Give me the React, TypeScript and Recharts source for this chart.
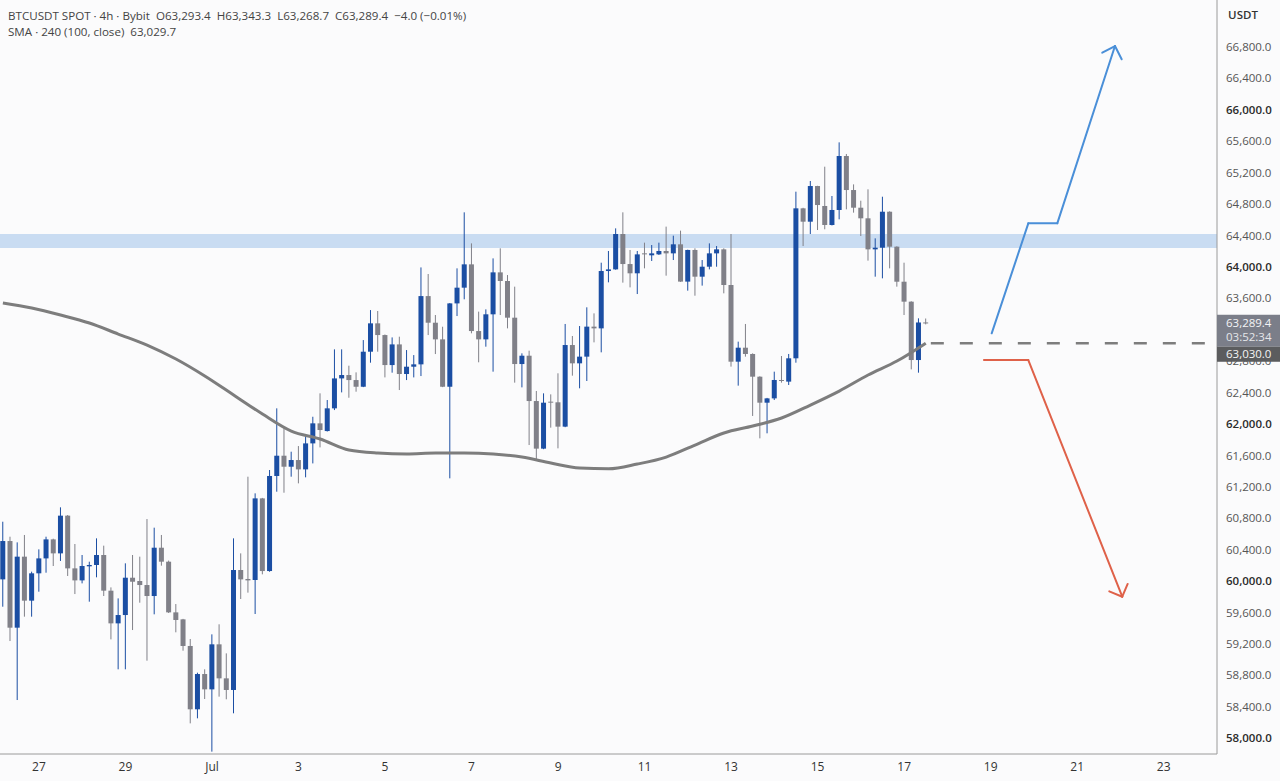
import { Bar, ComposedChart, Line, ReferenceArea, ReferenceLine, XAxis, YAxis } from 'recharts';

// index 0 = Jul 1 00:00, one step = one 4h candle
const FIRST_INDEX = -29;

// prettier-ignore
const OPENS = [
  60023, 60511, 59408, 60312, 59752, 60100, 60290, 60532, 60354, 60834,
  60163, 60010, 60189, 60206, 60333, 59879, 59463, 59569, 60044, 60002,
  59951, 59811, 60426, 60248, 59603, 59514, 59175, 58369, 58818,
  58623, 59196, 58763, 58615, 60142, 60028, 60015, 61054, 60129, 61339,
  61597, 61457, 61542, 61423, 61754, 62009, 61911, 62200, 62581, 62624,
  62560, 62475, 62921, 63282, 63133, 62751, 63014, 62637, 62730, 62760,
  63629, 63290, 63078, 62475, 63536, 63736, 64033, 63184, 63078, 63397,
  63931, 63821, 63354, 62764, 62870, 62293, 61687, 62285, 62277, 61967,
  63006, 62773, 62858, 63240, 63218, 63948, 63969, 64419, 64037, 63919,
  64173, 64148, 64160, 64203, 64173, 64288, 63813, 64216, 63876, 64003,
  64173, 64224, 63770, 62794, 62972, 62892, 62603, 62272, 62327, 62561,
  62540, 62837, 64746, 64576, 65030, 64776, 64534, 64725, 65412, 64979,
  64754, 64619, 64224, 64245, 64703, 64258, 63812, 63558, 62815, 63293.4,
];
// prettier-ignore
const HIGHS = [
  60757, 60566, 60494, 60588, 60121, 60405, 60566, 60541, 60940, 60842,
  60473, 60333, 60248, 60545, 60452, 59921, 59781, 60227, 60333, 60312,
  60791, 60681, 60588, 60262, 59709, 59520, 59264, 58835, 58878,
  59323, 59451, 59081, 60545, 60354, 61330, 61118, 61060, 61415, 62200,
  61945, 61648, 61720, 61861, 62093, 62391, 62306, 62951, 62951, 62743,
  62658, 63069, 63451, 63439, 63140, 63103, 63112, 62942, 62878, 63994,
  63910, 63388, 63239, 63540, 63982, 64695, 64300, 63431, 63460, 64109,
  64237, 63897, 63749, 62900, 62934, 62421, 62391, 62378, 62646, 63274,
  63121, 63248, 63486, 63409, 64054, 64203, 64491, 64695, 64216, 64203,
  64309, 64279, 64309, 64513, 64398, 64462, 64220, 64237, 64088, 64300,
  64266, 64237, 64419, 63049, 63274, 62900, 62608, 62333, 62667, 62866,
  62892, 64958, 64753, 65094, 65033, 65276, 64903, 65586, 65438, 65051,
  64843, 64988, 64364, 64894, 64708, 64263, 64054, 63563, 63346, 63343.3,
];
// prettier-ignore
const LOWS = [
  59675, 59238, 58487, 59548, 59548, 59866, 60108, 60193, 60257, 60066,
  59836, 59972, 59739, 60049, 59811, 59259, 58878, 58878, 59378, 59726,
  58988, 59578, 60197, 59595, 59349, 59115, 58190, 58254, 58500,
  57830, 58530, 58496, 58318, 59773, 59854, 59582, 60087, 60120, 61139,
  61126, 61330, 61245, 61322, 61499, 61703, 61905, 62178, 62403, 62335,
  62412, 62470, 62781, 62921, 62594, 62654, 62433, 62560, 62594, 62611,
  63133, 62891, 62470, 61309, 63375, 63588, 63155, 62786, 62985, 62667,
  63388, 63218, 62527, 62467, 61733, 61543, 61680, 61954, 61691, 61960,
  62616, 62455, 62548, 63040, 62913, 63804, 63965, 63800, 63740, 63655,
  63982, 64076, 64152, 63889, 64088, 63810, 63698, 63634, 63762, 63969,
  64003, 63664, 62731, 62489, 62858, 62103, 61818, 61882, 62306, 62527,
  62497, 62781, 64266, 64419, 64470, 64479, 64528, 64606, 64733, 64691,
  64394, 64080, 63876, 63855, 63982, 63749, 63388, 62696, 62654, 63268.7,
];
// prettier-ignore
const CLOSES = [
  60511, 59408, 60312, 59752, 60100, 60290, 60532, 60354, 60834, 60163,
  60010, 60193, 60206, 60333, 59879, 59463, 59569, 60044, 59993, 59951,
  59811, 60426, 60248, 59603, 59506, 59175, 58369, 58818, 58623,
  59196, 58763, 58615, 60142, 60023, 60010, 61054, 60129, 61339, 61597,
  61457, 61542, 61423, 61754, 62009, 61924, 62200, 62581, 62624, 62560,
  62475, 62921, 63282, 63133, 62751, 63014, 62637, 62730, 62760, 63629,
  63290, 63078, 62475, 63536, 63736, 64033, 63184, 63078, 63397, 63931,
  63821, 63354, 62764, 62870, 62293, 61687, 62272, 62277, 61967, 63006,
  62773, 62858, 63240, 63218, 63948, 63969, 64419, 64037, 63919, 64160,
  64165, 64173, 64203, 64173, 64288, 63813, 64216, 63876, 64003, 64173,
  64224, 63770, 62794, 62972, 62892, 62603, 62272, 62327, 62561, 62552,
  62837, 64746, 64576, 65030, 64788, 64534, 64725, 65412, 64979, 64754,
  64619, 64224, 64245, 64703, 64258, 63812, 63558, 62815, 63293, 63289.4,
];

// SMA 240 read every 4 candles
const SMA_INDEX = [-29, -25, -21, -17, -13, -9, -5, -1, 3, 7, 11, 15, 19, 23, 27, 31, 35, 39, 43, 47, 51, 55, 59, 63, 67, 71, 75, 79, 83, 87, 91, 95, 99];
// prettier-ignore
const SMA_VALUES = [
  63541, 63477, 63388, 63286, 63146, 63006, 62828, 62612, 62370, 62128, 61911,
  61810, 61670, 61631, 61619, 61631, 61631, 61619, 61580, 61504, 61440, 61430,
  61491, 61580, 61733, 61886, 61975, 62077, 62242, 62420, 62624, 62802, 63030,
];

const DAY_TICKS = [-24, -12, 0, 12, 24, 36, 48, 60, 72, 84, 96, 108, 120, 132];
const DAY_LABELS = ['27', '29', 'Jul', '3', '5', '7', '9', '11', '13', '15', '17', '19', '21', '23'];

// 63,200 sits under the live price tag, so it is left out
const PRICE_TICKS = [
  58000, 58400, 58800, 59200, 59600, 60000, 60400, 60800, 61200, 61600, 62000, 62400,
  62800, 63600, 64000, 64400, 64800, 65200, 65600, 66000, 66400, 66800,
];

// resistance zone
const ZONE_LOW = 64240;
const ZONE_HIGH = 64420;

const LAST_PRICE = 63289.4;
const SMA_LAST = 63030;
const COUNTDOWN = '03:52:34';

// scenario arrows (candle index, price)
const UP_PATH_X = [108.14, 113.22, 117.24, 125.24];
const UP_PATH_Y = [63155, 64555, 64555, 66812];
const UP_HEAD_X = [123.48, 125.24, 126.17];
const UP_HEAD_Y = [66727, 66812, 66643];
const DOWN_PATH_X = [107.07, 113.22, 126.25];
const DOWN_PATH_Y = [62815, 62815, 59802];
const DOWN_HEAD_X = [124.45, 126.25, 127.0];
const DOWN_HEAD_Y = [59871, 59802, 59965];

const X_MIN = -29.4;
const X_MAX = 139.39;
const Y_MIN = 57800;
const Y_MAX = 67398;

const UP_COLOR = '#1b4ea3';
const DOWN_COLOR = '#808088';
const SMA_COLOR = '#7d7d7d';
const BLUE_ARROW = '#4a8fd8';
const RED_ARROW = '#df6149';
const FONT = "'Open Sans', 'Noto Sans', sans-serif";

interface CandleRow {
  i: number;
  open: number;
  high: number;
  low: number;
  close: number;
  sma: number | null;
}

const rows: CandleRow[] = OPENS.map((open, k) => {
  const i = FIRST_INDEX + k;
  const s = SMA_INDEX.indexOf(i);
  return {
    i,
    open,
    high: HIGHS[k],
    low: LOWS[k],
    close: CLOSES[k],
    sma: s >= 0 ? SMA_VALUES[s] : null,
  };
});

const fmtPrice = (v: number) =>
  v.toLocaleString('en-US', { minimumFractionDigits: 1, maximumFractionDigits: 1 });

function segments(xs: number[], ys: number[]) {
  const out: { x: number; y: number }[][] = [];
  for (let k = 1; k < xs.length; k++) {
    out.push([
      { x: xs[k - 1], y: ys[k - 1] },
      { x: xs[k], y: ys[k] },
    ]);
  }
  return out;
}

function Candle(props: any) {
  const { x, y, width, height, payload } = props;
  if (!payload || height == null) return null;
  const { open, close, high, low } = payload as CandleRow;
  const color = close >= open ? UP_COLOR : DOWN_COLOR;
  const top = Math.min(y, y + height);
  const h = Math.abs(height);
  const k = high > low ? h / (high - low) : 0;
  const cx = x + width / 2;
  const bodyTop = top + (high - Math.max(open, close)) * k;
  const bodyH = Math.max(1, Math.abs(open - close) * k);
  return (
    <g>
      <line x1={cx} x2={cx} y1={top} y2={top + h} stroke={color} strokeWidth={1} />
      <rect x={x} y={bodyTop} width={width} height={bodyH} fill={color} />
    </g>
  );
}

// last tick in the list is the live price: its tags are drawn over the other labels
function PriceTick(props: any) {
  const { x, y, payload } = props;
  if (payload.value === LAST_PRICE) {
    const left = x - 9;
    return (
      <g fontFamily={FONT} fontSize={11.5}>
        <rect x={left} y={y - 8} width={64} height={32} fill="#7b7e89" />
        <text x={x} y={y} dy="0.35em" fill="#f4f4f6">
          {fmtPrice(LAST_PRICE)}
        </text>
        <text x={x} y={y + 14} dy="0.35em" fill="#e6e7ea">
          {COUNTDOWN}
        </text>
        <rect x={left} y={y + 24} width={64} height={15} fill="#5b5c5e" />
        <text x={x} y={y + 31.5} dy="0.35em" fill="#f4f4f4">
          {fmtPrice(SMA_LAST)}
        </text>
      </g>
    );
  }
  const strong = payload.value % 2000 === 0;
  return (
    <text
      x={x}
      y={y}
      dy="0.35em"
      textAnchor="start"
      fontSize={11.5}
      fontFamily={FONT}
      fill={strong ? '#2b2b2b' : '#555'}
      fontWeight={strong ? 600 : 400}
    >
      {fmtPrice(payload.value)}
    </text>
  );
}

export default function App() {
  const upPath = segments(UP_PATH_X, UP_PATH_Y);
  const upHead = segments(UP_HEAD_X, UP_HEAD_Y);
  const downPath = segments(DOWN_PATH_X, DOWN_PATH_Y);
  const downHead = segments(DOWN_HEAD_X, DOWN_HEAD_Y);

  return (
    <div
      style={{
        position: 'absolute',
        left: 0,
        top: 0,
        width: 1280,
        height: 781,
        background: '#fbfbfc',
        fontFamily: FONT,
        overflow: 'hidden',
      }}
    >
      <ComposedChart
        width={1280}
        height={781}
        data={rows}
        margin={{ top: 0, right: 0, bottom: 0, left: 0 }}
      >
        <XAxis
          dataKey="i"
          type="number"
          domain={[X_MIN, X_MAX]}
          allowDataOverflow
          ticks={DAY_TICKS}
          tickFormatter={(v) => DAY_LABELS[DAY_TICKS.indexOf(v)] ?? ''}
          height={27}
          tickLine={false}
          tickSize={4}
          tickMargin={4}
          axisLine={{ stroke: '#9a9a9a' }}
          tick={{ fontSize: 12, fill: '#333', fontFamily: FONT }}
        />
        <YAxis
          orientation="right"
          type="number"
          domain={[Y_MIN, Y_MAX]}
          allowDataOverflow
          ticks={[...PRICE_TICKS, LAST_PRICE]}
          interval={0}
          width={63}
          tickLine={false}
          tickSize={6}
          tickMargin={3}
          axisLine={{ stroke: '#9a9a9a' }}
          tick={<PriceTick />}
        />
        <ReferenceArea
          y1={ZONE_LOW}
          y2={ZONE_HIGH}
          fill="#c9dcf2"
          fillOpacity={1}
          stroke="none"
        />
        <Line
          dataKey="sma"
          type="monotone"
          stroke={SMA_COLOR}
          strokeWidth={3}
          dot={false}
          activeDot={false}
          connectNulls
          isAnimationActive={false}
        />
        <Bar
          dataKey={(d: CandleRow) => [d.low, d.high]}
          barSize={5}
          shape={<Candle />}
          isAnimationActive={false}
        />
        <ReferenceLine
          segment={[
            { x: 99.7, y: SMA_LAST },
            { x: X_MAX, y: SMA_LAST },
          ]}
          stroke="#7d7d7d"
          strokeWidth={2.5}
          strokeDasharray="13 16"
        />
        {upPath.concat(upHead).map((seg, k) => (
          <ReferenceLine
            key={`u${k}`}
            segment={seg}
            stroke={BLUE_ARROW}
            strokeWidth={2}
            strokeLinecap="round"
          />
        ))}
        {downPath.concat(downHead).map((seg, k) => (
          <ReferenceLine
            key={`d${k}`}
            segment={seg}
            stroke={RED_ARROW}
            strokeWidth={2}
            strokeLinecap="round"
          />
        ))}
      </ComposedChart>

      <div
        style={{
          position: 'absolute',
          left: 8,
          top: 8,
          fontSize: 11.6,
          lineHeight: '16px',
          color: '#444',
          whiteSpace: 'pre',
        }}
      >
        <div>BTCUSDT SPOT · 4h · Bybit  O63,293.4  H63,343.3  L63,268.7  C63,289.4  −4.0 (−0.01%)</div>
        <div>SMA · 240 (100, close)  63,029.7</div>
      </div>
      <div
        style={{
          position: 'absolute',
          left: 1218,
          top: 7,
          width: 50,
          textAlign: 'center',
          fontSize: 11.5,
          fontWeight: 600,
          color: '#333',
        }}
      >
        USDT
      </div>
    </div>
  );
}
